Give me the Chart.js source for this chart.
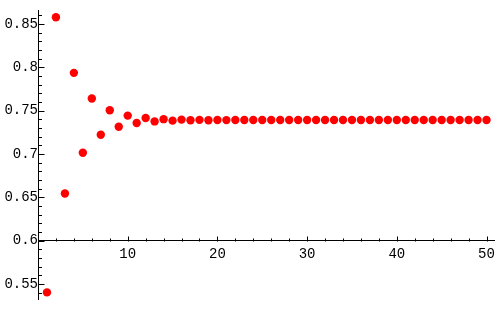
<!DOCTYPE html>
<html><head><meta charset="utf-8">
<script src="https://cdn.jsdelivr.net/npm/chart.js@4/dist/chart.umd.min.js"></script>
<style>html,body{margin:0;padding:0;background:#fff}#wrap{width:500px;height:309px}</style>
</head><body><div id="wrap"><canvas id="c"></canvas></div>
<script>
const nValues = [1,2,3,4,5,6,7,8,9,10,11,12,13,14,15,16,17,18,19,20,21,22,23,24,25,26,27,28,29,30,31,32,33,34,35,36,37,38,39,40,41,42,43,44,45,46,47,48,49,50];
const seriesValues = [0.5403,0.8576,0.6543,0.7935,0.7014,0.7640,0.7221,0.7504,0.7314,0.7442,
  0.7356,0.7414,0.7375,0.7401,0.7384,0.7396,0.7388,0.7393,0.7389,0.7392,
  0.7390,0.7391,0.7391,0.7391,0.7391,0.7391,0.7391,0.7391,0.7391,0.7391,
  0.7391,0.7391,0.7391,0.7391,0.7391,0.7391,0.7391,0.7391,0.7391,0.7391,
  0.7391,0.7391,0.7391,0.7391,0.7391,0.7391,0.7391,0.7391,0.7391,0.7391];
const xTickLabels = [10,20,30,40,50];
const yTickLabels = [0.55,0.6,0.65,0.7,0.75,0.8,0.85];
const xMinorTicks = [2,4,6,8,12,14,16,18,22,24,26,28,32,34,36,38,42,44,46,48];
const yMinorTicks = [0.54,0.56,0.57,0.58,0.59,0.61,0.62,0.63,0.64,0.66,0.67,0.68,0.69,0.71,0.72,0.73,0.74,0.76,0.77,0.78,0.79,0.81,0.82,0.83,0.84,0.86];

const FONT = {family:'"Liberation Mono", "Courier New", monospace', size:14};

const inwardTicks = {
  id:'inwardTicks',
  afterDraw(chart){
    const ctx = chart.ctx, xs = chart.scales.x, ys = chart.scales.y;
    const ax = Math.round(xs.getPixelForValue(0)) + 0.5;
    const ay = Math.round(ys.getPixelForValue(0.6)) + 0.5;
    ctx.save();
    ctx.strokeStyle = '#000'; ctx.lineWidth = 1;
    ctx.beginPath();
    xTickLabels.forEach(v=>{const p=Math.round(xs.getPixelForValue(v))+0.5; ctx.moveTo(p,ay); ctx.lineTo(p,ay-5);});
    xMinorTicks.forEach(v=>{const p=Math.round(xs.getPixelForValue(v))+0.5; ctx.moveTo(p,ay); ctx.lineTo(p,ay-3);});
    yTickLabels.forEach(v=>{const p=Math.round(ys.getPixelForValue(v))+0.5; ctx.moveTo(ax,p); ctx.lineTo(ax+6,p);});
    yMinorTicks.forEach(v=>{const p=Math.round(ys.getPixelForValue(v))+0.5; ctx.moveTo(ax,p); ctx.lineTo(ax+3.5,p);});
    ctx.stroke();
    ctx.restore();
  }
};

new Chart(document.getElementById('c'), {
  type:'scatter',
  data:{datasets:[{
    data: nValues.map((n,i)=>({x:n, y:seriesValues[i]})),
    backgroundColor:'#ff0000', borderColor:'#ff0000', borderWidth:0,
    pointRadius:4.2, pointHoverRadius:4.2
  }]},
  options:{
    responsive:true, maintainAspectRatio:false, animation:false,
    layout:{padding:{left:38,right:0,top:10,bottom:9}},
    plugins:{legend:{display:false}, tooltip:{enabled:false}},
    scales:{
      x:{type:'linear', min:0, max:50.9, position:{y:0.6},
        afterBuildTicks(s){s.ticks = xTickLabels.map(v=>({value:v}));},
        ticks:{color:'#000', font:FONT, padding:5, maxRotation:0, autoSkip:false, callback:v=>String(v)},
        grid:{display:true, drawOnChartArea:false, drawTicks:false},
        border:{display:true, color:'#000', width:1}
      },
      y:{type:'linear', min:0.532, max:0.866, position:{x:0},
        afterBuildTicks(s){s.ticks = yTickLabels.map(v=>({value:v}));},
        ticks:{color:'#000', font:FONT, padding:1, autoSkip:false, callback:v=>String(Math.round(v*100)/100)},
        grid:{display:true, drawOnChartArea:false, drawTicks:false},
        border:{display:true, color:'#000', width:1}
      }
    }
  },
  plugins:[inwardTicks]
});
</script></body></html>
